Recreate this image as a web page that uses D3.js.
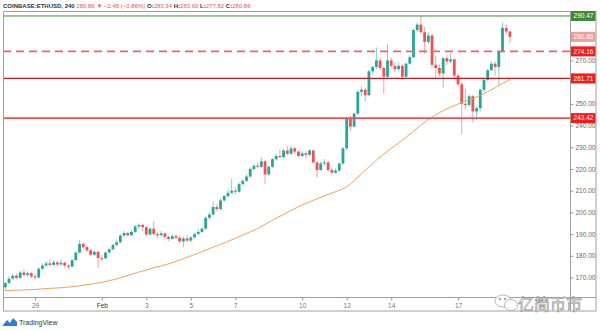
<!DOCTYPE html>
<html><head><meta charset="utf-8">
<script src="https://cdn.jsdelivr.net/npm/d3@7"></script>
<style>html,body{margin:0;padding:0;background:#fff;}svg{display:block;}</style>
</head><body>
<svg id="chart" width="600" height="331"></svg>
<script>
// ---------------- DATA ----------------
const symbolTitle = "COINBASE:ETHUSD, 240";
// 4h candles [open, high, low, close], first candle 27 Jan 2020 16:00 UTC
const candleStart = Date.UTC(2020, 0, 27, 16);
const candleStepHours = 4;
const ohlc = [
[165.5,167.8,163.8,167.5],[167.5,170.5,167,169.5],[169.5,171.5,169,170.8],[170.8,171.8,169.2,169.8],
[169.8,173,169.5,172.3],[172.3,173.8,170.5,171.2],[171.2,172.8,170.6,172],[172,172.6,169.8,170.5],
[170.5,171.5,169,170],[170,174.8,169.8,174],[174,176.5,173.5,175.5],[175.5,177.5,175,176.5],
[176.5,178.5,175.2,175.8],[175.8,178,175.5,177],[177,177.5,175.3,176],[176,178.5,175.5,176.8],
[176.8,177.3,174.5,175.5],[175.5,176.5,173.8,175],[175,178.5,174.8,178],[178,182,177.5,181.5],
[181.5,187,181,185.5],[185.5,186,183.2,184],[184,184.8,181.8,182.5],[182.5,183.2,180,180.5],
[180.5,182.5,179.8,181.8],[181.8,182.5,174.5,179],[179,180.3,177.5,178.8],[178.8,182,178.5,181.5],
[181.5,183.8,181,183],[183,185.5,182.5,185],[185,187.5,184.5,186.2],[186.2,190,185.8,189.3],
[189.3,191.5,188.5,190.5],[190.5,191.2,188.8,189.5],[189.5,192,189,191],[191,194.2,190.5,193.5],
[193.5,195,192.5,194.2],[194.2,194.8,191.5,193.2],[193.2,193.8,189,189.8],[189.8,193,189.5,192.5],
[192.5,196,189.5,190],[190,191,188.2,189.5],[189.5,191.3,188.8,190.3],[190.3,190.8,188,188.7],
[188.7,189.2,186.8,187.8],[187.8,190,187.5,189],[189,190.2,187.8,188.3],[188.3,189.3,186,186.6],
[186.6,188.8,184,188],[188,189.5,186.3,187],[187,189,186.2,188.5],[188.5,190.7,188,190],
[190,192.5,189.5,191],[191,193,190.5,192.5],[192.5,198.2,192,197.5],[197.5,200,196.8,199],
[199,205,198.5,202.5],[202.5,204,200.5,201.5],[201.5,206.5,201,205.5],[205.5,208.2,205,207.5],
[207.5,210.5,207,209],[209,215.5,208.5,210],[210,211.5,208.5,209.5],[209.5,213.8,209,213],
[213,215.5,212.5,214.5],[214.5,217.5,214,216.5],[216.5,220.8,216,220],[220,222,219.5,221.5],
[221.5,223,220.3,221],[221,225.5,220.5,223.5],[223.5,224.2,213,217.5],[217.5,221.8,216.8,221],
[221,225,220.5,224.5],[224.5,227,223.8,226],[226,229,225,225.5],[225.5,229.2,225,228.5],
[228.5,230.5,226.2,227],[227,231,226.5,229.5],[229.5,230.3,227,228],[228,228.5,225.3,226],
[226,228,225.5,227.2],[227.2,228.3,225,226.5],[226.5,229.2,226,228.5],[228.5,229,222.5,223],
[223,223.5,216,219.5],[219.5,223.3,219,222.5],[222.5,224.5,221.5,223],[223,223.7,218.7,219.5],
[219.5,220.5,217.5,218.3],[218.3,220.2,217.8,219.3],[219.3,223,218.5,222.5],[222.5,230.2,222,229.5],
[229.5,244,228.5,243],[243,244.5,237.5,239.5],[239.5,246,239,245.5],[245.5,256.5,245,255.5],
[255.5,258,253.5,256.5],[256.5,257.5,251,254],[254,265.8,253.5,265],[265,267.5,263.5,267],
[267,276,266,270],[270,271.5,265.5,266.5],[266.5,267.5,254.5,262.5],[262.5,277.5,262,270],
[270,271.5,266.5,267.5],[267.5,269,264.5,266],[266,269,265,267.5],[267.5,268.5,261,262.5],
[262.5,269,262,268.5],[268.5,272.5,268,271.5],[271.5,284.8,271,284],[284,287.5,283,286.5],
[286.5,290.47,282.5,283],[283,285.5,273,278.5],[278.5,283,277.5,281.5],[281.5,282.5,266.5,268],
[268,272,262,266.5],[266.5,268,262.5,264],[264,271.5,257.5,271],[271,272.5,268,269.5],
[269.5,273.5,268.5,270.5],[270.5,271,262,263],[263,264,258,259],[259,260,236,250],
[250,257,247.5,249.5],[249.5,254.5,248.5,253.5],[253.5,254,241.5,246.5],[246.5,249,242.5,248],
[248,257,246.5,256.5],[256.5,261.5,255.5,261],[261,266,260.5,265.5],[265.5,269.5,265,268.5],
[268.5,269.5,263,267],[267,274.5,258.5,274],[274,287.5,273.5,285],[285,286.5,282,283.31],
[283.34,283.60,277.82,280.86]
];
// moving average, read every 4th candle
const maStep = 4;
const maValues = [164.0,164.2,164.5,165.0,165.4,166.2,167.2,168.5,170.4,172.5,174.5,176.3,178.7,181.2,
184,186.6,189.6,192.6,196.4,200,203.4,206.3,208.9,211.8,217.8,224,229.5,234.6,240.2,245,248.5,251.2,253.8,257.5,261.2];
const priceTicks = [170,180,190,200,210,220,230,240,250,260,270,280,290];
const dateTicks = [Date.UTC(2020,0,29),Date.UTC(2020,1,1),Date.UTC(2020,1,3),Date.UTC(2020,1,5),Date.UTC(2020,1,7),
  Date.UTC(2020,1,10),Date.UTC(2020,1,12),Date.UTC(2020,1,14),Date.UTC(2020,1,17)];
const dateTickLabels = ["29","Feb","3","5","7","10","12","14","17"];
const levelValues = [290.47, 274.16, 261.71, 243.42];
const watermarkText = "亿简币市";

// ---------------- LAYOUT ----------------
const L = 3, R = 596, PR = 570, T = 11.5, PB = 297, B = 311;
const svg = d3.select("#chart");
const font = "'Liberation Sans', Arial, sans-serif";

const x = d3.scaleUtc().domain([Date.UTC(2020,0,29), Date.UTC(2020,1,17)]).range([35, 458]);
const y = d3.scaleLinear().domain([170, 290]).range([277.5, 17]);
const tAt = i => new Date(candleStart + i * candleStepHours * 3600e3);

svg.append("defs").append("clipPath").attr("id","plot")
  .append("rect").attr("x",L).attr("y",T).attr("width",PR-L).attr("height",PB-T);

const plot = svg.append("g").attr("clip-path","url(#plot)");

// candles
const UP = "#26a69a", DN = "#ef5350";
const cg = plot.append("g");
cg.selectAll("line.wick").data(ohlc).join("line")
  .attr("x1",(d,i)=>x(tAt(i))).attr("x2",(d,i)=>x(tAt(i)))
  .attr("y1",d=>y(d[1])).attr("y2",d=>y(d[2]))
  .attr("stroke",d=>d[3]>=d[0]?UP:DN).attr("stroke-opacity",0.55).attr("stroke-width",1);
cg.selectAll("rect.body").data(ohlc).join("rect")
  .attr("x",(d,i)=>x(tAt(i))-1.4).attr("width",2.8)
  .attr("y",d=>y(Math.max(d[0],d[3])))
  .attr("height",d=>Math.max(1,Math.abs(y(d[0])-y(d[3]))))
  .attr("fill",d=>d[3]>=d[0]?UP:DN);

// moving average
plot.append("path").datum(maValues)
  .attr("fill","none").attr("stroke","#f5a05a").attr("stroke-width",1)
  .attr("d", d3.line().x((d,i)=>x(tAt(i*maStep))).y(d=>y(d)).curve(d3.curveMonotoneX));

// level lines
const levelStyle = [
  {stroke:"#3f8a34", w:1,   dash:null,  bg:"#3f8a34"},
  {stroke:"#f26464", w:1.6, dash:"8,5", bg:"#f21c1c"},
  {stroke:"#c8171d", w:1.3, dash:null,  bg:"#f21c1c"},
  {stroke:"#f25050", w:1.8, dash:null,  bg:"#f21c1c"}
];
levelValues.forEach((v,k)=>{
  const s = levelStyle[k];
  plot.append("line").attr("x1",L).attr("x2",PR).attr("y1",y(v)).attr("y2",y(v))
    .attr("stroke",s.stroke).attr("stroke-width",s.w).attr("stroke-dasharray",s.dash);
});

// frame
const frame = svg.append("g").attr("fill","none").attr("stroke","#a0a0a0").attr("stroke-width",1);
frame.append("rect").attr("x",L+0.5).attr("y",T).attr("width",R-L-0.5).attr("height",B-T);
frame.append("line").attr("x1",PR+0.5).attr("x2",PR+0.5).attr("y1",T).attr("y2",B);
frame.append("line").attr("x1",L).attr("x2",R).attr("y1",PB+0.5).attr("y2",PB+0.5);

// right axis: tick labels that sit under a price label are covered (hidden) as on the reference
const last = ohlc[ohlc.length-1];
const labelPrices = [last[3], ...levelValues];
const visibleTicks = priceTicks.filter(t => labelPrices.every(p => Math.abs(y(t)-y(p)) > 7));
const ya = svg.append("g").attr("transform",`translate(${PR+0.5},0)`)
  .call(d3.axisRight(y).tickValues(visibleTicks).tickSize(3).tickPadding(2).tickFormat(d=>d.toFixed(2)));
ya.select(".domain").remove();
ya.selectAll("line").attr("stroke","#999");
ya.selectAll("text").attr("font-family",font).attr("font-size",6.5).attr("fill","#666");

// bottom axis
const xa = svg.append("g").attr("transform",`translate(0,${PB+0.5})`)
  .call(d3.axisBottom(x).tickValues(dateTicks).tickSize(3).tickPadding(3).tickFormat((d,i)=>dateTickLabels[i]));
xa.select(".domain").remove();
xa.selectAll("line").attr("stroke","#999");
xa.selectAll("text").attr("font-family",font).attr("font-size",6.5)
  .attr("fill",(d,i)=>dateTickLabels[i]==="Feb"?"#333":"#777");

// price labels on axis
function priceLabel(v, bg){
  const g = svg.append("g");
  g.append("rect").attr("x",PR+1).attr("y",y(v)-5).attr("width",R-PR-1.5).attr("height",10).attr("fill",bg);
  g.append("text").attr("x",(PR+R)/2+0.5).attr("y",y(v)).attr("dy","0.35em").attr("text-anchor","middle")
    .attr("font-family",font).attr("font-size",6.5).attr("fill","#fff").text(v.toFixed(2));
}
priceLabel(last[3], "#f29b9b");
levelValues.forEach((v,k)=>priceLabel(v, levelStyle[k].bg));

// header
const prevClose = ohlc[ohlc.length-2][3];
const chg = last[3]-prevClose, pct = chg/prevClose*100;
const hdr = svg.append("text").attr("x",3).attr("y",7.5).attr("font-family",font).attr("font-size",6);
const red = "#ef5350", dark = "#333";
hdr.append("tspan").attr("font-weight","bold").attr("fill",dark).text(symbolTitle+" ");
hdr.append("tspan").attr("fill",red).text(last[3].toFixed(2)+" ▼ "+(chg<0?"−":"+")+Math.abs(chg).toFixed(2)+" ("+(chg<0?"−":"+")+Math.abs(pct).toFixed(2)+"%) ");
[["O:",last[0]],["H:",last[1]],["L:",last[2]],["C:",last[3]]].forEach(([k,v])=>{
  hdr.append("tspan").attr("fill",dark).attr("font-weight","bold").text(k);
  hdr.append("tspan").attr("fill",red).text(v.toFixed(2)+" ");
});

// TradingView logo
const tv = svg.append("g").attr("transform","translate(3,317)");
tv.append("path").attr("d","M0,8 L4,3 L7,6 L10,1 L14,5 L14,9 L0,9 Z").attr("fill","#2a7fd4");
tv.append("text").attr("x",16).attr("y",7.5).attr("font-family",font).attr("font-size",7).attr("fill","#333").text("TradingView");

// watermark
const wm = svg.append("g").attr("fill","#fff").attr("stroke","#9a9a9a").attr("stroke-width",0.7);
wm.append("ellipse").attr("cx",503).attr("cy",301).attr("rx",8).attr("ry",6);
wm.append("ellipse").attr("cx",511).attr("cy",305).attr("rx",6.5).attr("ry",5.5);
wm.append("circle").attr("cx",500).attr("cy",299).attr("r",0.9).attr("fill","#9a9a9a");
wm.append("circle").attr("cx",505).attr("cy",299).attr("r",0.9).attr("fill","#9a9a9a");
wm.append("text").attr("x",518).attr("y",309.5).attr("font-family","'Noto Sans CJK SC', sans-serif")
  .attr("font-size",16).attr("fill","#fff").attr("fill-opacity",0.7).attr("stroke","#8a8a8a").attr("stroke-width",0.6)
  .text(watermarkText);
</script>
</body></html>
